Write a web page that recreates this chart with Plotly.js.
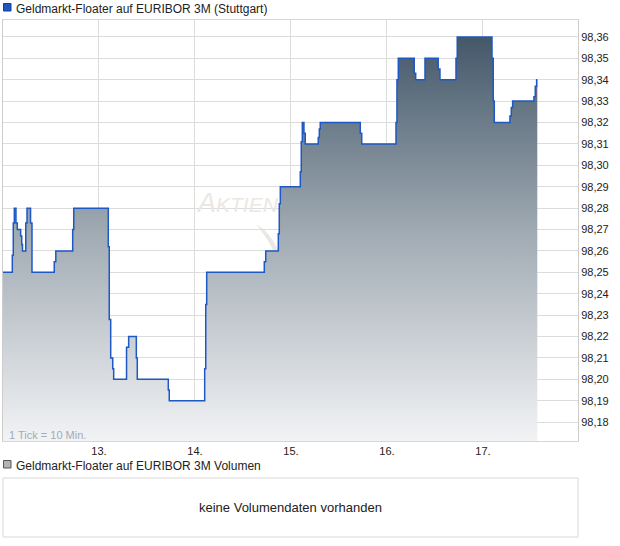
<!DOCTYPE html>
<html>
<head>
<meta charset="utf-8">
<script src="https://cdn.plot.ly/plotly-3.0.1.min.js"></script>
<style>html,body{margin:0;padding:0;background:#fff;}#chart{width:620px;height:546px;}</style>
</head>
<body>
<div id="chart"></div>
<script>
// Step positions in trading-day units (12 = start of day 12, 13 = day 13 ...)
var stepDays = [12.000, 12.097, 12.107, 12.118, 12.135, 12.149, 12.184, 12.195, 12.203, 12.237,
  12.250, 12.287, 12.302, 12.534, 12.550, 12.726, 12.737, 13.097, 13.107, 13.122,
  13.143, 13.153, 13.287, 13.309, 13.389, 13.399, 13.722, 13.732, 14.101, 14.112,
  14.122, 14.722, 14.737, 14.868, 14.878, 14.889, 15.097, 15.107, 15.118, 15.135,
  15.149, 15.284, 15.295, 15.305, 15.722, 15.737, 16.094, 16.104, 16.118, 16.284,
  16.299, 16.396, 16.534, 16.552, 16.719, 16.732, 17.094, 17.107, 17.118, 17.281,
  17.295, 17.309, 17.531, 17.545, 17.559, 17.566];
var prices = [98.250, 98.258, 98.273, 98.280, 98.273, 98.270, 98.267, 98.263, 98.260, 98.273,
  98.280, 98.273, 98.250, 98.255, 98.260, 98.270, 98.280, 98.262, 98.228, 98.210,
  98.205, 98.200, 98.215, 98.220, 98.210, 98.200, 98.195, 98.190, 98.205, 98.235,
  98.250, 98.255, 98.260, 98.268, 98.282, 98.290, 98.297, 98.311, 98.320, 98.315,
  98.310, 98.313, 98.317, 98.320, 98.315, 98.310, 98.320, 98.340, 98.350, 98.343,
  98.340, 98.350, 98.345, 98.340, 98.350, 98.360, 98.350, 98.330, 98.320, 98.323,
  98.327, 98.330, 98.332, 98.337, 98.340, 98.340];
var dayTicks = [13, 14, 15, 16, 17];
var dayLabels = ['13.', '14.', '15.', '16.', '17.'];
var priceTicks = [98.18, 98.19, 98.20, 98.21, 98.22, 98.23, 98.24, 98.25, 98.26, 98.27,
  98.28, 98.29, 98.30, 98.31, 98.32, 98.33, 98.34, 98.35, 98.36];
var seriesName = 'Geldmarkt-Floater auf EURIBOR 3M (Stuttgart)';
var volumeName = 'Geldmarkt-Floater auf EURIBOR 3M Volumen';
var noVolumeText = 'keine Volumendaten vorhanden';
var tickNote = '1 Tick = 10 Min.';

var FONT = 'Liberation Sans, Arial, sans-serif';
// pixel -> paper helpers (plot area: x 3..578, y 20..441)
function px(X) { return (X - 3) / 575; }
function py(Y) { return (441 - Y) / 421; }

var trace = {
  x: stepDays,
  y: prices,
  type: 'scatter',
  mode: 'lines',
  line: {shape: 'hv', color: '#1e58c4', width: 1.5},
  fill: 'tozeroy',
  fillgradient: {
    type: 'vertical',
    start: 98.1712,
    stop: 98.36,
    colorscale: [[0, '#f2f3f5'], [0.5, '#a3adb5'], [1, '#44586a']]
  },
  hoverinfo: 'skip',
  showlegend: false
};

var layout = {
  width: 620,
  height: 546,
  margin: {l: 3, r: 42, t: 20, b: 105},
  paper_bgcolor: '#ffffff',
  plot_bgcolor: '#ffffff',
  separators: ',.',
  font: {family: FONT, size: 11, color: '#222'},
  showlegend: false,
  xaxis: {
    range: [12, 17.99],
    tickvals: dayTicks,
    ticktext: dayLabels,
    showgrid: true,
    gridcolor: '#dcdcdc',
    zeroline: false,
    showline: true,
    linecolor: '#d6d6d6',
    mirror: true,
    ticks: '',
    tickfont: {family: FONT, size: 11, color: '#222'},
    fixedrange: true
  },
  yaxis: {
    side: 'right',
    range: [98.1712, 98.3679],
    tickvals: priceTicks,
    tickformat: '.2f',
    showgrid: true,
    gridcolor: '#dcdcdc',
    zeroline: false,
    showline: true,
    linecolor: '#cccccc',
    mirror: true,
    ticks: '',
    tickfont: {family: FONT, size: 11, color: '#222'},
    fixedrange: true
  },
  shapes: [
    // watermark swoosh
    {type: 'path', xref: 'paper', yref: 'paper', layer: 'below',
      path: 'M ' + px(256) + ',' + py(224) + ' Q ' + px(270) + ',' + py(232) + ' ' + px(278) + ',' + py(250) +
        ' L ' + px(273) + ',' + py(250) + ' Q ' + px(266) + ',' + py(236) + ' ' + px(256) + ',' + py(224) + ' Z',
      fillcolor: '#ebe7e3', line: {width: 0}},
    // legend square (price)
    {type: 'rect', xref: 'paper', yref: 'paper', x0: px(3.5), x1: px(11), y0: py(11), y1: py(3.5),
      fillcolor: '#1f57c3', line: {color: '#1b3f86', width: 1}},
    // legend square (volume)
    {type: 'rect', xref: 'paper', yref: 'paper', x0: px(3.5), x1: px(11), y0: py(468), y1: py(460.5),
      fillcolor: '#b4b4b4', line: {color: '#555555', width: 1}},
    // volume panel box
    {type: 'rect', xref: 'paper', yref: 'paper', x0: px(3), x1: px(578), y0: py(537), y1: py(478),
      fillcolor: 'rgba(0,0,0,0)', line: {color: '#d8d8d8', width: 1}}
  ],
  annotations: [
    {xref: 'paper', yref: 'paper', x: px(14), y: py(9), xanchor: 'left', yanchor: 'middle',
      text: seriesName, showarrow: false, font: {family: FONT, size: 12, color: '#222'}},
    {xref: 'paper', yref: 'paper', x: px(14), y: py(466), xanchor: 'left', yanchor: 'middle',
      text: volumeName, showarrow: false, font: {family: FONT, size: 12, color: '#222'}},
    {xref: 'paper', yref: 'paper', x: px(290), y: py(507), xanchor: 'center', yanchor: 'middle',
      text: noVolumeText, showarrow: false, font: {family: FONT, size: 13, color: '#222'}},
    {xref: 'paper', yref: 'paper', x: px(7), y: py(435), xanchor: 'left', yanchor: 'middle',
      text: tickNote, showarrow: false, font: {family: FONT, size: 11, color: '#a3aab8'}},
    {xref: 'paper', yref: 'paper', x: px(194), y: py(203), xanchor: 'left', yanchor: 'middle',
      text: '<i>A<span style="font-size:21px">KTIEN</span></i>', showarrow: false,
      font: {family: FONT, size: 27, color: '#ebe7e3'}}
  ]
};

Plotly.newPlot('chart', [trace], layout, {staticPlot: true, displayModeBar: false});
</script>
</body>
</html>
